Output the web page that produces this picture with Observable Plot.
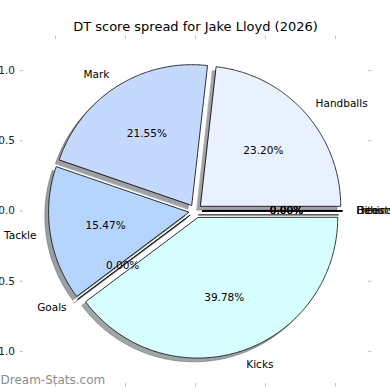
<!DOCTYPE html>
<html>
<head>
<meta charset="utf-8">
<script src="https://cdn.jsdelivr.net/npm/d3@7"></script>
<script src="https://cdn.jsdelivr.net/npm/@observablehq/plot@0.6"></script>
<style>
  html, body { margin: 0; padding: 0; background: white; overflow: hidden; }
  #chart svg { display: block; }
</style>
</head>
<body>
<div id="chart"></div>
<script>
// ---- data ----
const title = "DT score spread for Jake Lloyd (2026)";
const watermark = "Dream-Stats.com";
const categories = ["Handballs", "Mark", "Tackle", "Goals", "Kicks", "Hitouts", "Frees", "Behinds"];
const points = [42, 39, 28, 0, 72, 0, 0, 0];
const fills = ["#e9f0ff", "#c5d9ff", "#b5d5ff", "#c9e4ff", "#d8ffff", "#e0e8ff", "#e0e8ff", "#e0e8ff"];
const axisTicks = [-1, -0.5, 0, 0.5, 1];

// ---- pie geometry (matplotlib-like: start 0°, counter-clockwise) ----
const explode = 0.05, labelDistance = 1.1, pctDistance = 0.6, shadowOff = -0.027;
const total = d3.sum(points);
let start = 0;
const slices = categories.map((name, i) => {
  const a1 = start, a2 = start + 360 * points[i] / total;
  start = a2;
  const am = (a1 + a2) / 2 * Math.PI / 180;
  const cx = explode * Math.cos(am), cy = explode * Math.sin(am);
  const n = Math.max(1, Math.ceil((a2 - a1) / 0.5));
  const poly = [[cx, cy]];
  for (let k = 0; k <= n; k++) {
    const a = (a1 + (a2 - a1) * k / n) * Math.PI / 180;
    poly.push([cx + Math.cos(a), cy + Math.sin(a)]);
  }
  return {
    name, fill: fills[i], poly,
    lx: cx + labelDistance * Math.cos(am), ly: cy + labelDistance * Math.sin(am),
    px: cx + pctDistance * Math.cos(am), py: cy + pctDistance * Math.sin(am),
    pct: (100 * points[i] / total).toFixed(2) + "%"
  };
});
const shade = c => { const r = d3.rgb(c); return d3.rgb(r.r * 0.3, r.g * 0.3, r.b * 0.3).formatHex(); };

const shadowMarks = slices.map(s => Plot.line(s.poly.map(p => [p[0] + shadowOff, p[1] + shadowOff]), {
  x: d => d[0], y: d => d[1], fill: shade(s.fill), fillOpacity: 0.5,
  stroke: shade(s.fill), strokeOpacity: 0.5, strokeWidth: 0.8, curve: "linear-closed"
}));
const wedgeMarks = slices.map(s => Plot.line(s.poly, {
  x: d => d[0], y: d => d[1], fill: s.fill, stroke: "black", strokeWidth: 0.8, curve: "linear-closed"
}));

const fmt = d => d3.format(".1f")(d).replace("-", "\u2212");
const D = 1.2286;

const chart = Plot.plot({
  width: 390, height: 390,
  marginLeft: 23, marginRight: 23, marginTop: 38, marginBottom: 7,
  x: { domain: [-D, D] },
  y: { domain: [-D, D] },
  style: { fontFamily: "DejaVu Sans", fontSize: "10.5px", background: "white", color: "black" },
  marks: [
    // axis ticks (light grey) on all four sides
    Plot.axisX({ anchor: "bottom", ticks: axisTicks, tickFormat: () => "", color: "#c4c4c4", tickSize: 3.5, label: null }),
    Plot.axisX({ anchor: "top", ticks: axisTicks, tickFormat: () => "", color: "#c4c4c4", tickSize: 3.5, label: null }),
    Plot.axisY({ anchor: "left", ticks: axisTicks, tickFormat: () => "", color: "#c4c4c4", tickSize: 3.5, label: null }),
    Plot.axisY({ anchor: "right", ticks: axisTicks, tickFormat: () => "", color: "#c4c4c4", tickSize: 3.5, label: null }),
    // tick labels
    Plot.axisY({ anchor: "left", ticks: axisTicks, tickFormat: fmt, color: "#222", tickSize: 0, tickPadding: 8.5, label: null }),
    Plot.axisX({ anchor: "bottom", ticks: axisTicks, tickFormat: fmt, color: "#222", tickSize: 0, tickPadding: 7, label: null }),
    ...shadowMarks,
    ...wedgeMarks,
    Plot.text(slices.filter(s => s.lx >= 0), { x: "lx", y: "ly", text: "name", textAnchor: "start", fill: "black", fontSize: 10.5 }),
    Plot.text(slices.filter(s => s.lx < 0), { x: "lx", y: "ly", text: "name", textAnchor: "end", fill: "black", fontSize: 10.5 }),
    Plot.text(slices, { x: "px", y: "py", text: "pct", textAnchor: "middle", fill: "black", fontSize: 10.5 }),
    Plot.text([title], { text: d => d, frameAnchor: "top", lineAnchor: "middle", dy: -12, fontSize: 13, fill: "black" }),
    Plot.text([watermark], { text: d => d, frameAnchor: "bottom-left", textAnchor: "start", lineAnchor: "middle", dx: -23, dy: -3, fontSize: 12, fill: "#8c8c8c" })
  ]
});
document.getElementById("chart").appendChild(chart);
</script>
</body>
</html>
